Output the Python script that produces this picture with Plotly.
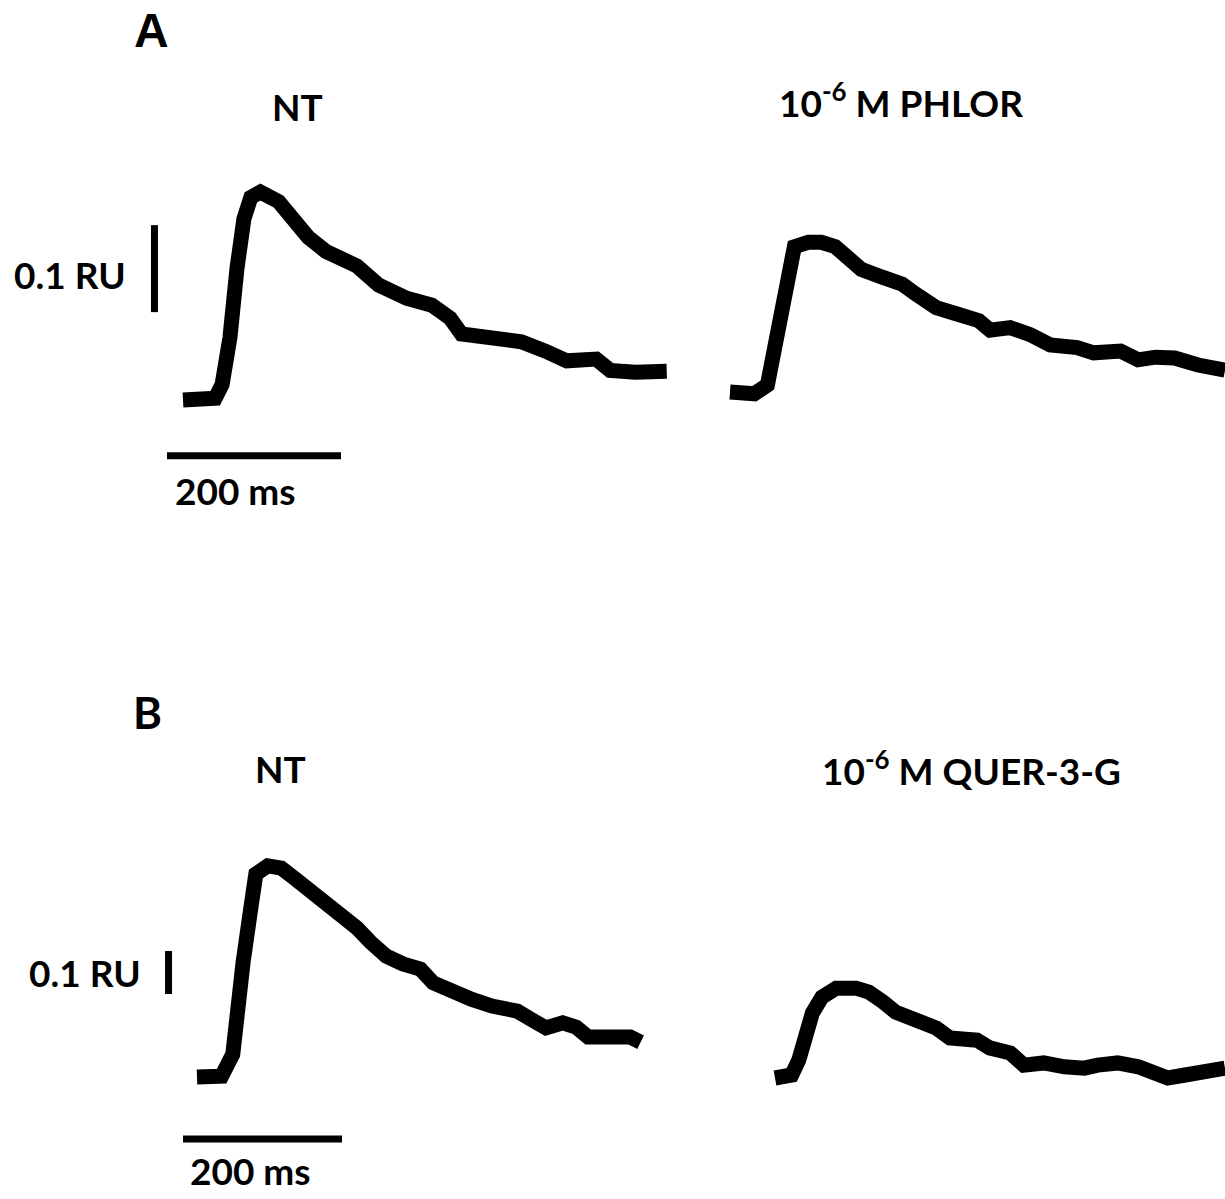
import plotly.graph_objects as go

W, H = 1225, 1199

# ---------------- data (time in ms, signal in RU) ----------------
a_nt_t = [0, 37, 45, 54, 62, 70, 78, 89, 110, 131, 144, 164, 184, 200, 225, 257, 286, 307, 320, 347,
          389, 417, 441, 475, 491, 520, 556]
a_nt_v = [0, 0.002, 0.018, 0.072, 0.151, 0.208, 0.233, 0.239, 0.228, 0.201, 0.187, 0.171, 0.160, 0.154,
          0.132, 0.117, 0.109, 0.094, 0.076, 0.072, 0.067, 0.056, 0.045, 0.047, 0.034, 0.032, 0.033]

a_phlor_t = [0, 28, 43, 51, 59, 66, 74, 90, 105, 121, 136, 151, 175, 198, 213, 237, 260, 286, 299, 322,
             345, 368, 399, 418, 449, 469, 489, 511, 538, 569]
a_phlor_v = [0, -0.002, 0.008, 0.047, 0.093, 0.139, 0.167, 0.172, 0.172, 0.167, 0.151, 0.141, 0.132,
             0.124, 0.113, 0.097, 0.090, 0.082, 0.071, 0.074, 0.066, 0.054, 0.051, 0.045, 0.047, 0.037,
             0.040, 0.039, 0.031, 0.025]

b_nt_t = [0, 31, 45, 50, 58, 67, 74, 89, 106, 122, 143, 164, 185, 201, 218, 238, 259, 281, 297, 317,
          345, 371, 403, 424, 439, 460, 477, 492, 525, 545, 558]
b_nt_v = [0, 0.002, 0.053, 0.149, 0.267, 0.384, 0.472, 0.491, 0.486, 0.463, 0.433, 0.400, 0.370, 0.347,
          0.314, 0.281, 0.263, 0.251, 0.219, 0.200, 0.181, 0.165, 0.153, 0.130, 0.114, 0.126, 0.116,
          0.093, 0.093, 0.093, 0.081]

b_quer_t = [0, 21, 30, 38, 47, 59, 77, 102, 118, 136, 152, 177, 203, 220, 254, 270, 296, 313, 338, 364,
            389, 406, 431, 457, 473, 494, 516, 541, 566]
b_quer_v = [0, 0.007, 0.042, 0.102, 0.151, 0.188, 0.209, 0.209, 0.200, 0.177, 0.153, 0.135, 0.116,
            0.093, 0.088, 0.070, 0.058, 0.030, 0.035, 0.026, 0.023, 0.030, 0.035, 0.026, 0.012, 0.000,
            0.007, 0.019, 0.023]

scale_time_ms = 200
scale_signal_ru = 0.1
scale_time_label = "200 ms"
scale_signal_label = "0.1 RU"

panel_letters = ["A", "B"]
titles = ["NT", "10<sup>-6</sup> M PHLOR", "NT", "10<sup>-6</sup> M QUER-3-G"]

# ---------------- layout geometry (pixels) ----------------
# origin of each trace (t=0, v=0) on the page, and pixel scales
panels = [
    dict(t=a_nt_t, v=a_nt_v, x0=183, y0=400, sx=0.87, sy=870),
    dict(t=a_phlor_t, v=a_phlor_v, x0=730, y0=392, sx=0.87, sy=870),
    dict(t=b_nt_t, v=b_nt_v, x0=197, y0=1077, sx=0.795, sy=430),
    dict(t=b_quer_t, v=b_quer_v, x0=775, y0=1078, sx=0.795, sy=430),
]
# scale bar anchors, in the NT axis units of each row
bars = [
    dict(axis=0, t_start=-18.4, v_time=-0.064, t_vert=-32.8, v_start=0.101),
    dict(axis=2, t_start=-17.6, v_time=-0.144, t_vert=-35.8, v_start=0.193),
]

fig = go.Figure()
LW = 15
BAR_W = 7

for i, p in enumerate(panels):
    n = "" if i == 0 else str(i + 1)
    fig.add_trace(go.Scatter(x=p["t"], y=p["v"], mode="lines",
                             line=dict(color="black", width=LW),
                             xaxis="x" + n, yaxis="y" + n, showlegend=False,
                             hoverinfo="skip"))
    xr = [-p["x0"] / p["sx"], (W - p["x0"]) / p["sx"]]
    yr = [(p["y0"] - H) / p["sy"], p["y0"] / p["sy"]]
    fig.layout["xaxis" + n] = dict(domain=[0, 1], range=xr, visible=False,
                                   anchor="y" + n, fixedrange=True)
    fig.layout["yaxis" + n] = dict(domain=[0, 1], range=yr, visible=False,
                                   anchor="x" + n, fixedrange=True)

for b in bars:
    n = "" if b["axis"] == 0 else str(b["axis"] + 1)
    fig.add_trace(go.Scatter(x=[b["t_start"], b["t_start"] + scale_time_ms],
                             y=[b["v_time"], b["v_time"]], mode="lines",
                             line=dict(color="black", width=BAR_W),
                             xaxis="x" + n, yaxis="y" + n, showlegend=False,
                             hoverinfo="skip"))
    fig.add_trace(go.Scatter(x=[b["t_vert"], b["t_vert"]],
                             y=[b["v_start"], b["v_start"] + scale_signal_ru], mode="lines",
                             line=dict(color="black", width=BAR_W),
                             xaxis="x" + n, yaxis="y" + n, showlegend=False,
                             hoverinfo="skip"))

TXT = "Lato, 'Open Sans', sans-serif"
FS = 37


def ann(text, px, py, size=FS, family=TXT):
    fig.add_annotation(text="<b>" + text + "</b>", x=px / W, y=1 - py / H,
                       xref="paper", yref="paper", xanchor="center", yanchor="middle",
                       showarrow=False, font=dict(family=family, size=size, color="black"))


ann(panel_letters[0], 151, 30, size=48, family="Liberation Sans, Arial, sans-serif")
ann(panel_letters[1], 147, 712, size=44)
ann(titles[0], 297, 106)
ann(titles[1], 901, 100)
ann(titles[2], 280, 768)
ann(titles[3], 971, 768)
ann(scale_signal_label, 70, 275)
ann(scale_signal_label, 85, 972)
ann(scale_time_label, 235, 490)
ann(scale_time_label, 250, 1170)

fig.update_layout(width=W, height=H, margin=dict(l=0, r=0, t=0, b=0),
                  paper_bgcolor="white", plot_bgcolor="rgba(0,0,0,0)", showlegend=False)

fig.write_html("out.html", config=dict(displayModeBar=False))
